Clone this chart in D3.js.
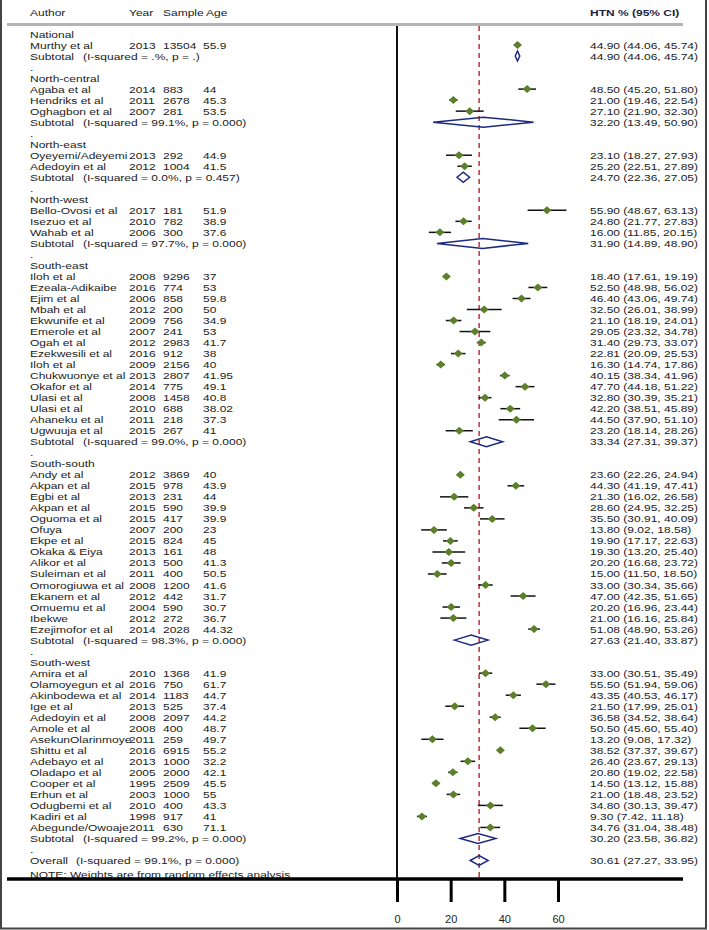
<!DOCTYPE html>
<html>
<head>
<meta charset="utf-8">
<script src="https://cdn.jsdelivr.net/npm/d3@7"></script>
<style>
  html, body { margin: 0; padding: 0; background: #fff; }
  svg text { font-family: "Liberation Sans", Arial, sans-serif; font-size: 9.6px; fill: #222; white-space: pre; }
</style>
</head>
<body>
<svg id="chart" width="709" height="930"></svg>
<script>
// ---------------- DATA ----------------
const regions = ["National", "North-central", "North-east", "North-west", "South-east", "South-south", "South-west"];
const subI2  = [".%", "99.1%", "0.0%", "97.7%", "99.0%", "98.3%", "99.2%"];
const subP   = [".", "0.000", "0.457", "0.000", "0.000", "0.000", "0.000"];
const subEst = [44.90, 32.20, 24.70, 31.90, 33.34, 27.63, 30.20];
const subLo  = [44.06, 13.49, 22.36, 14.89, 27.31, 21.40, 23.58];
const subHi  = [45.74, 50.90, 27.05, 48.90, 39.37, 33.87, 36.82];

const authors = [
  "Murthy et al",
  "Agaba et al", "Hendriks et al", "Oghagbon et al",
  "Oyeyemi/Adeyemi", "Adedoyin et al",
  "Bello-Ovosi et al", "Isezuo et al", "Wahab et al",
  "Iloh et al", "Ezeala-Adikaibe", "Ejim et al", "Mbah et al", "Ekwunife et al", "Emerole et al", "Ogah et al",
  "Ezekwesili et al", "Iloh et al", "Chukwuonye et al", "Okafor et al", "Ulasi et al", "Ulasi et al", "Ahaneku et al", "Ugwuuja et al",
  "Andy et al", "Akpan et al", "Egbi et al", "Akpan et al", "Oguoma et al", "Ofuya", "Ekpe et al", "Okaka & Eiya",
  "Alikor et al", "Suleiman et al", "Omorogiuwa et al", "Ekanem et al", "Omuemu et al", "Ibekwe", "Ezejimofor et al",
  "Amira et al", "Olamoyegun et al", "Akinbodewa et al", "Ige et al", "Adedoyin et al", "Amole et al", "AsekunOlarinmoye",
  "Shittu et al", "Adebayo et al", "Oladapo et al", "Cooper et al", "Erhun et al", "Odugbemi et al", "Kadiri et al", "Abegunde/Owoaje"
];
const regionOf = [
  0,
  1, 1, 1,
  2, 2,
  3, 3, 3,
  4, 4, 4, 4, 4, 4, 4, 4, 4, 4, 4, 4, 4, 4, 4,
  5, 5, 5, 5, 5, 5, 5, 5, 5, 5, 5, 5, 5, 5, 5,
  6, 6, 6, 6, 6, 6, 6, 6, 6, 6, 6, 6, 6, 6, 6
];
const years = [
  2013,
  2014, 2011, 2007,
  2013, 2012,
  2017, 2010, 2006,
  2008, 2016, 2006, 2012, 2009, 2007, 2012, 2016, 2009, 2013, 2014, 2008, 2010, 2011, 2015,
  2012, 2015, 2013, 2015, 2015, 2007, 2015, 2013, 2013, 2011, 2008, 2012, 2004, 2012, 2014,
  2010, 2016, 2014, 2013, 2008, 2008, 2011, 2016, 2013, 2005, 1995, 2003, 2010, 1998, 2011
];
const samples = [
  13504,
  883, 2678, 281,
  292, 1004,
  181, 782, 300,
  9296, 774, 858, 200, 756, 241, 2983, 912, 2156, 2807, 775, 1458, 688, 218, 267,
  3869, 978, 231, 590, 417, 200, 824, 161, 500, 400, 1200, 442, 590, 272, 2028,
  1368, 750, 1183, 525, 2097, 400, 259, 6915, 1000, 2000, 2509, 1000, 400, 917, 630
];
const ages = [
  "55.9",
  "44", "45.3", "53.5",
  "44.9", "41.5",
  "51.9", "38.9", "37.6",
  "37", "53", "59.8", "50", "34.9", "53", "41.7", "38", "40", "41.95", "49.1", "40.8", "38.02", "37.3", "41",
  "40", "43.9", "44", "39.9", "39.9", "23", "45", "48", "41.3", "50.5", "41.6", "31.7", "30.7", "36.7", "44.32",
  "41.9", "61.7", "44.7", "37.4", "44.2", "48.7", "49.7", "55.2", "32.2", "42.1", "45.5", "55", "43.3", "41", "71.1"
];
const est = [
  44.90,
  48.50, 21.00, 27.10,
  23.10, 25.20,
  55.90, 24.80, 16.00,
  18.40, 52.50, 46.40, 32.50, 21.10, 29.05, 31.40, 22.81, 16.30, 40.15, 47.70, 32.80, 42.20, 44.50, 23.20,
  23.60, 44.30, 21.30, 28.60, 35.50, 13.80, 19.90, 19.30, 20.20, 15.00, 33.00, 47.00, 20.20, 21.00, 51.08,
  33.00, 55.50, 43.35, 21.50, 36.58, 50.50, 13.20, 38.52, 26.40, 20.80, 14.50, 21.00, 34.80, 9.30, 34.76
];
const lo = [
  44.06,
  45.20, 19.46, 21.90,
  18.27, 22.51,
  48.67, 21.77, 11.85,
  17.61, 48.98, 43.06, 26.01, 18.19, 23.32, 29.73, 20.09, 14.74, 38.34, 44.18, 30.39, 38.51, 37.90, 18.14,
  22.26, 41.19, 16.02, 24.95, 30.91, 9.02, 17.17, 13.20, 16.68, 11.50, 30.34, 42.35, 16.96, 16.16, 48.90,
  30.51, 51.94, 40.53, 17.99, 34.52, 45.60, 9.08, 37.37, 23.67, 19.02, 13.12, 18.48, 30.13, 7.42, 31.04
];
const hi = [
  45.74,
  51.80, 22.54, 32.30,
  27.93, 27.89,
  63.13, 27.83, 20.15,
  19.19, 56.02, 49.74, 38.99, 24.01, 34.78, 33.07, 25.53, 17.86, 41.96, 51.22, 35.21, 45.89, 51.10, 28.26,
  24.94, 47.41, 26.58, 32.25, 40.09, 18.58, 22.63, 25.40, 23.72, 18.50, 35.66, 51.65, 23.44, 25.84, 53.26,
  35.49, 59.06, 46.17, 25.01, 38.64, 55.40, 17.32, 39.67, 29.13, 22.58, 15.88, 23.52, 39.47, 11.18, 38.48
];
const overall = { est: 30.61, lo: 27.27, hi: 33.95, i2: "99.1%", p: "0.000" };
const tickValues = [0, 20, 40, 60];
const headers = ["Author", "Year", "Sample", "Age"];
const effectHeader = "HTN % (95% CI)";
const noteText = "NOTE: Weights are from random effects analysis";

// ---------------- LAYOUT ----------------
const svg = d3.select("#chart");
const W = 709, H = 930;
const x = d3.scaleLinear().domain([0, 60]).range([397, 558]);
const colX = { author: 30, year: 129, sample: 163, age: 203, eff: 590, sub2: 83 };
const headX = [30, 129, 163, 206];
const fmt = d3.format(".2f");
const ciText = (e, l, h) => `${fmt(e)} (${fmt(l)}, ${fmt(h)})`;
const SX = 1.25; // horizontal stretch of the text, as in the reference

function addText(g, tx, ty, s) {
  return g.append("text").attr("transform", `translate(${tx},${ty}) scale(${SX},1)`).text(s);
}

// build row list
const rows = [];
regions.forEach((reg, r) => {
  rows.push({ type: "header", label: reg });
  authors.forEach((a, i) => { if (regionOf[i] === r) rows.push({ type: "study", i }); });
  rows.push({ type: "sub", r });
  rows.push({ type: "blank" });
});
rows.push({ type: "overall" });
rows.push({ type: "note" });

const y = d3.scaleLinear().domain([0, 1]).range([34, 34 + 11.02]);
const axisY = 879;

// frame (left, right, bottom)
svg.append("path")
  .attr("d", `M1,0 V${H - 1.5} H${W - 3} V0`)
  .attr("fill", "none").attr("stroke", "#444").attr("stroke-width", 2);

// headers
const hg = svg.append("g");
headers.forEach((h, i) => addText(hg, headX[i], 16, h));
addText(hg, colX.eff, 16, effectHeader).style("font-weight", "bold").style("fill", "#1b1f4a");
svg.append("line").attr("x1", 7).attr("x2", 683).attr("y1", 24.5).attr("y2", 24.5)
  .attr("stroke", "#b4b4b4").attr("stroke-width", 3);

// null line
svg.append("line").attr("x1", x(0)).attr("x2", x(0)).attr("y1", 26).attr("y2", axisY)
  .attr("stroke", "#111").attr("stroke-width", 2);
// overall dashed line
svg.append("line").attr("x1", x(overall.est)).attr("x2", x(overall.est)).attr("y1", 26).attr("y2", axisY)
  .attr("stroke", "#b5232b").attr("stroke-width", 1.4).attr("stroke-dasharray", "5,4");

const txt = svg.append("g");
const marks = svg.append("g");
const diamondPath = (l, e, h, cy) => `M${x(l)},${cy} L${x(e)},${cy - 5} L${x(h)},${cy} L${x(e)},${cy + 5} Z`;

rows.forEach((row, k) => {
  const cy = y(k);
  const ty = cy + 3.5;
  if (row.type === "header") {
    addText(txt, colX.author, ty, row.label);
  } else if (row.type === "study") {
    const i = row.i;
    addText(txt, colX.author, ty, authors[i]);
    addText(txt, colX.year, ty, years[i]);
    addText(txt, colX.sample, ty, samples[i]);
    addText(txt, colX.age, ty, ages[i]);
    addText(txt, colX.eff, ty, ciText(est[i], lo[i], hi[i]));
    marks.append("line").attr("x1", x(lo[i])).attr("x2", x(hi[i])).attr("y1", cy).attr("y2", cy)
      .attr("stroke", "#111").attr("stroke-width", 1.5);
    marks.append("path")
      .attr("d", `M${x(est[i]) - 4.5},${cy} L${x(est[i])},${cy - 4} L${x(est[i]) + 4.5},${cy} L${x(est[i])},${cy + 4} Z`)
      .attr("fill", "#5b7f2b");
  } else if (row.type === "sub") {
    const r = row.r;
    addText(txt, colX.author, ty, "Subtotal");
    addText(txt, colX.sub2, ty, `(I-squared = ${subI2[r]}, p = ${subP[r]})`);
    addText(txt, colX.eff, ty, ciText(subEst[r], subLo[r], subHi[r]));
    marks.append("path").attr("d", diamondPath(subLo[r], subEst[r], subHi[r], cy))
      .attr("fill", "none").attr("stroke", "#1c2a80").attr("stroke-width", 1.5);
  } else if (row.type === "blank") {
    addText(txt, colX.author, ty, ".");
  } else if (row.type === "overall") {
    addText(txt, colX.author, ty, "Overall");
    addText(txt, 76, ty, `(I-squared = ${overall.i2}, p = ${overall.p})`);
    addText(txt, colX.eff, ty, ciText(overall.est, overall.lo, overall.hi));
    marks.append("path").attr("d", diamondPath(overall.lo, overall.est, overall.hi, cy))
      .attr("fill", "none").attr("stroke", "#1c2a80").attr("stroke-width", 1.5);
  } else if (row.type === "note") {
    addText(txt, colX.author, cy + 6.5, noteText);
  }
});

// axis
svg.append("line").attr("x1", 7).attr("x2", 683).attr("y1", axisY).attr("y2", axisY)
  .attr("stroke", "#000").attr("stroke-width", 3.5);
const axis = d3.axisBottom(x).tickValues(tickValues).tickSize(23).tickPadding(13).tickSizeOuter(0);
const ag = svg.append("g").attr("transform", `translate(0,${axisY})`).call(axis);
ag.select(".domain").remove();
ag.selectAll(".tick line").attr("stroke", "#000").attr("stroke-width", 3);
ag.selectAll(".tick text").style("font-size", "11px").style("fill", "#222")
  .style("font-family", '"Liberation Sans", Arial, sans-serif');
</script>
</body>
</html>
